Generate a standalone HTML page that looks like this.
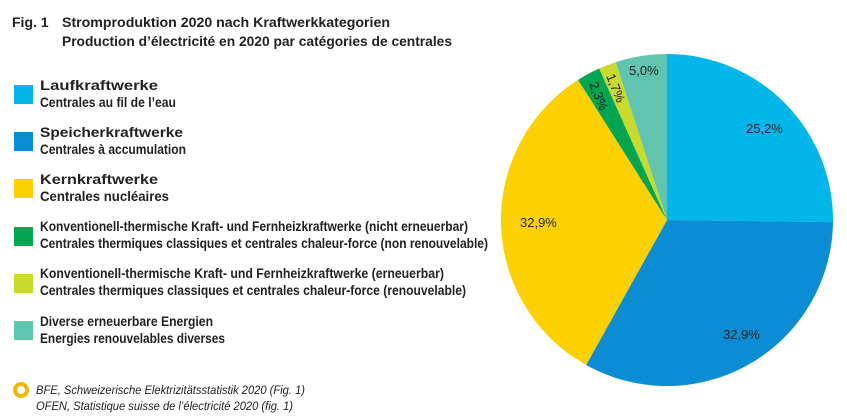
<!DOCTYPE html>
<html><head><meta charset="utf-8"><style>body{margin:0;background:#fff}svg{display:block}</style></head><body>
<svg width="847" height="418" xmlns="http://www.w3.org/2000/svg" font-family="Liberation Sans, sans-serif" fill="#222">
<g font-weight="bold" font-size="14">
<text x="12" y="27">Fig. 1</text>
<text x="62" y="27" textLength="328" lengthAdjust="spacingAndGlyphs">Stromproduktion 2020 nach Kraftwerkkategorien</text>
<text x="62" y="46" textLength="390" lengthAdjust="spacingAndGlyphs">Production d’électricité en 2020 par catégories de centrales</text>
</g>
<g>
<rect x="14" y="85" width="19" height="19" fill="#00b7ec"/>
<rect x="14" y="132" width="19" height="19" fill="#0a8dd4"/>
<rect x="14" y="179" width="19" height="19" fill="#fdd100"/>
<rect x="14" y="227" width="19" height="19" fill="#00a651"/>
<rect x="14" y="274" width="19" height="19" fill="#c9da2b"/>
<rect x="14" y="321" width="19" height="19" fill="#5fc5b0"/>
</g>
<g font-weight="bold" font-size="14">
<text x="40" y="90" textLength="118" lengthAdjust="spacingAndGlyphs">Laufkraftwerke</text>
<text x="40" y="107" textLength="136" lengthAdjust="spacingAndGlyphs">Centrales au fil de l’eau</text>
<text x="40" y="137" textLength="143" lengthAdjust="spacingAndGlyphs">Speicherkraftwerke</text>
<text x="40" y="154" textLength="146" lengthAdjust="spacingAndGlyphs">Centrales à accumulation</text>
<text x="40" y="184" textLength="118" lengthAdjust="spacingAndGlyphs">Kernkraftwerke</text>
<text x="40" y="201" textLength="129" lengthAdjust="spacingAndGlyphs">Centrales nucléaires</text>
<text x="40" y="231" textLength="428" lengthAdjust="spacingAndGlyphs">Konventionell-thermische Kraft- und Fernheizkraftwerke (nicht erneuerbar)</text>
<text x="40" y="248" textLength="448" lengthAdjust="spacingAndGlyphs">Centrales thermiques classiques et centrales chaleur-force (non renouvelable)</text>
<text x="40" y="278" textLength="404" lengthAdjust="spacingAndGlyphs">Konventionell-thermische Kraft- und Fernheizkraftwerke (erneuerbar)</text>
<text x="40" y="295" textLength="426" lengthAdjust="spacingAndGlyphs">Centrales thermiques classiques et centrales chaleur-force (renouvelable)</text>
<text x="40" y="326" textLength="173" lengthAdjust="spacingAndGlyphs">Diverse erneuerbare Energien</text>
<text x="40" y="343" textLength="185" lengthAdjust="spacingAndGlyphs">Energies renouvelables diverses</text>
</g>
<circle cx="21" cy="390" r="6" fill="none" stroke="#f2b800" stroke-width="4"/>
<g font-style="italic" font-size="12">
<text x="36" y="394" textLength="269" lengthAdjust="spacingAndGlyphs">BFE, Schweizerische Elektrizitätsstatistik 2020 (Fig. 1)</text>
<text x="36" y="410" textLength="257" lengthAdjust="spacingAndGlyphs">OFEN, Statistique suisse de l’électricité 2020 (fig. 1)</text>
</g>
<g>
<path d="M667,220 L667,54 A166,166 0 0 1 832.99,222.09 Z" fill="#00b7ec"/>
<path d="M667,220 L832.99,222.09 A166,166 0 0 1 586.1,364.95 Z" fill="#0a8dd4"/>
<path d="M667,220 L586.1,364.95 A166,166 0 0 1 578.06,79.84 Z" fill="#fdd100"/>
<path d="M667,220 L578.06,79.84 A166,166 0 0 1 599.17,68.49 Z" fill="#00a651"/>
<path d="M667,220 L599.17,68.49 A166,166 0 0 1 615.7,62.11 Z" fill="#c9da2b"/>
<path d="M667,220 L615.7,62.11 A166,166 0 0 1 667,54 Z" fill="#5fc5b0"/>
</g>
<g font-size="13">
<text x="746" y="133">25,2%</text>
<text x="723" y="339">32,9%</text>
<text x="520" y="227">32,9%</text>
<text x="629" y="75">5,0%</text>
<text x="0" y="0" transform="translate(589,84) rotate(68)">2,3%</text>
<text x="0" y="0" transform="translate(606,76) rotate(68)">1,7%</text>
</g>
</svg>
</body></html>
